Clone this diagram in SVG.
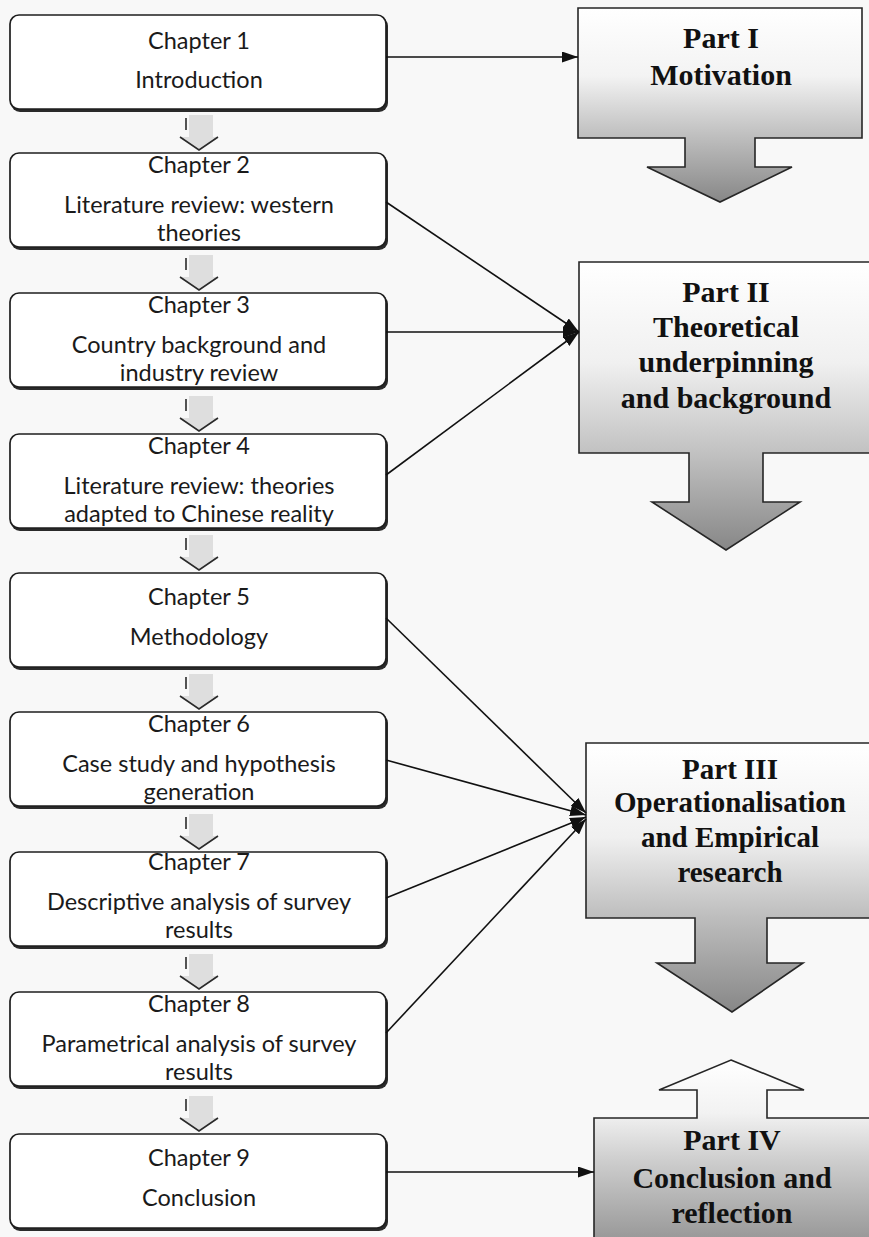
<svg xmlns="http://www.w3.org/2000/svg" width="869" height="1237" viewBox="0 0 869 1237">
  <defs>
    <style>
      .chap { fill: #ffffff; stroke: #1e1e1e; stroke-width: 1.7; }
      .shadow { fill: #2a2a2a; }
      .ct { font-family: Lato, "Liberation Sans", sans-serif; font-size: 23.5px; fill: #1a1a1a; text-anchor: middle; }
      .pt { font-family: "Liberation Serif", "Times New Roman", serif; font-weight: bold; font-size: 30px; fill: #111; text-anchor: middle; }
      .pt3 { font-size: 29px; }
      .part { stroke: #262626; stroke-width: 1.6; stroke-linejoin: miter; }
      .conn { fill: none; stroke: #111; stroke-width: 1.6; }
      .stepfill { fill: #dedede; }
      .stepline { fill: none; stroke: #2a2a2a; stroke-width: 1.6; }
    </style>
    <marker id="head" viewBox="0 0 16 11" refX="16" refY="5.5" markerWidth="16" markerHeight="11" markerUnits="userSpaceOnUse" orient="auto">
      <path d="M0,0 L16,5.5 L0,11 Z" fill="#111"/>
    </marker>
    <linearGradient id="gDown1" x1="0" y1="8" x2="0" y2="202" gradientUnits="userSpaceOnUse">
      <stop offset="0" stop-color="#ffffff"/>
      <stop offset="0.35" stop-color="#f3f3f3"/>
      <stop offset="0.67" stop-color="#bdbdbd"/>
      <stop offset="1" stop-color="#878787"/>
    </linearGradient>
    <linearGradient id="gDown2" x1="0" y1="262" x2="0" y2="550" gradientUnits="userSpaceOnUse">
      <stop offset="0" stop-color="#ffffff"/>
      <stop offset="0.35" stop-color="#f0f0f0"/>
      <stop offset="0.66" stop-color="#c2c2c2"/>
      <stop offset="1" stop-color="#878787"/>
    </linearGradient>
    <linearGradient id="gDown3" x1="0" y1="743" x2="0" y2="1012" gradientUnits="userSpaceOnUse">
      <stop offset="0" stop-color="#ffffff"/>
      <stop offset="0.35" stop-color="#f0f0f0"/>
      <stop offset="0.65" stop-color="#bdbdbd"/>
      <stop offset="1" stop-color="#878787"/>
    </linearGradient>
    <linearGradient id="gUp4" x1="0" y1="1060" x2="0" y2="1237" gradientUnits="userSpaceOnUse">
      <stop offset="0" stop-color="#ffffff"/>
      <stop offset="0.3" stop-color="#f2f2f2"/>
      <stop offset="0.55" stop-color="#d0d0d0"/>
      <stop offset="1" stop-color="#9a9a9a"/>
    </linearGradient>
    <!-- small step arrow between chapter boxes; origin = top of the next box at x=199 -->
    <g id="step">
      <path class="stepfill" d="M-10,-38 H14 V-16 H19 L0,-3 L-19,-16 H-10 Z"/>
      <path class="stepline" d="M-13,-35 V-23"/>
      <path class="stepline" d="M-19,-16 L0,-3 L19,-16"/>
    </g>
  </defs>

  <rect width="869" height="1237" fill="#f8f8f8"/>

  <!-- chapter column -->
  <g id="ch1">
    <rect class="shadow" x="11" y="17" width="377" height="95" rx="9"/>
    <rect class="chap" x="10" y="15" width="376" height="94" rx="9"/>
    <text class="ct" x="199" y="49">Chapter 1</text>
    <text class="ct" x="199" y="88">Introduction</text>
  </g>
  <g id="ch2">
    <rect class="shadow" x="11" y="155" width="377" height="95" rx="9"/>
    <rect class="chap" x="10" y="153" width="376" height="94" rx="9"/>
    <text class="ct" x="199" y="173">Chapter 2</text>
    <text class="ct" x="199" y="213">Literature review: western</text>
    <text class="ct" x="199" y="241">theories</text>
  </g>
  <g id="ch3">
    <rect class="shadow" x="11" y="295" width="377" height="95" rx="9"/>
    <rect class="chap" x="10" y="293" width="376" height="94" rx="9"/>
    <text class="ct" x="199" y="313">Chapter 3</text>
    <text class="ct" x="199" y="353">Country background and</text>
    <text class="ct" x="199" y="381">industry review</text>
  </g>
  <g id="ch4">
    <rect class="shadow" x="11" y="436" width="377" height="95" rx="9"/>
    <rect class="chap" x="10" y="434" width="376" height="94" rx="9"/>
    <text class="ct" x="199" y="454">Chapter 4</text>
    <text class="ct" x="199" y="494">Literature review: theories</text>
    <text class="ct" x="199" y="522">adapted to Chinese reality</text>
  </g>
  <g id="ch5">
    <rect class="shadow" x="11" y="575" width="377" height="95" rx="9"/>
    <rect class="chap" x="10" y="573" width="376" height="94" rx="9"/>
    <text class="ct" x="199" y="605">Chapter 5</text>
    <text class="ct" x="199" y="645">Methodology</text>
  </g>
  <g id="ch6">
    <rect class="shadow" x="11" y="714" width="377" height="95" rx="9"/>
    <rect class="chap" x="10" y="712" width="376" height="94" rx="9"/>
    <text class="ct" x="199" y="732">Chapter 6</text>
    <text class="ct" x="199" y="772">Case study and hypothesis</text>
    <text class="ct" x="199" y="800">generation</text>
  </g>
  <g id="ch7">
    <rect class="shadow" x="11" y="854" width="377" height="95" rx="9"/>
    <rect class="chap" x="10" y="852" width="376" height="94" rx="9"/>
    <text class="ct" x="199" y="870">Chapter 7</text>
    <text class="ct" x="199" y="910">Descriptive analysis of survey</text>
    <text class="ct" x="199" y="938">results</text>
  </g>
  <g id="ch8">
    <rect class="shadow" x="11" y="994" width="377" height="95" rx="9"/>
    <rect class="chap" x="10" y="992" width="376" height="94" rx="9"/>
    <text class="ct" x="199" y="1012">Chapter 8</text>
    <text class="ct" x="199" y="1052">Parametrical analysis of survey</text>
    <text class="ct" x="199" y="1080">results</text>
  </g>
  <g id="ch9">
    <rect class="shadow" x="11" y="1136" width="377" height="95" rx="9"/>
    <rect class="chap" x="10" y="1134" width="376" height="94" rx="9"/>
    <text class="ct" x="199" y="1166">Chapter 9</text>
    <text class="ct" x="199" y="1206">Conclusion</text>
  </g>

  <!-- step arrows between consecutive chapters -->
  <g id="steps">
    <use href="#step" x="199" y="153"/>
    <use href="#step" x="199" y="293"/>
    <use href="#step" x="199" y="434"/>
    <use href="#step" x="199" y="573"/>
    <use href="#step" x="199" y="712"/>
    <use href="#step" x="199" y="852"/>
    <use href="#step" x="199" y="992"/>
    <use href="#step" x="199" y="1134"/>
  </g>

  <!-- part blocks -->
  <g id="part1">
    <path class="part" fill="url(#gDown1)" d="M578,8 H862 V138 H755 V167 H792 L720,202 L647,167 H685 V138 H578 Z"/>
    <text class="pt" x="721" y="48">Part I</text>
    <text class="pt" x="721" y="85">Motivation</text>
  </g>
  <g id="part2">
    <path class="part" fill="url(#gDown2)" d="M579,262 H876 V453 H763 V502 H800 L726,550 L652,502 H689 V453 H579 Z"/>
    <text class="pt" x="726" y="302">Part II</text>
    <text class="pt" x="726" y="337">Theoretical</text>
    <text class="pt" x="726" y="372">underpinning</text>
    <text class="pt" x="726" y="408">and background</text>
  </g>
  <g id="part3">
    <path class="part" fill="url(#gDown3)" d="M586,743 H878 V918 H767 V963 H803 L732,1012 L657,963 H695 V918 H586 Z"/>
    <text class="pt pt3" x="730" y="779">Part III</text>
    <text class="pt pt3" x="730" y="812">Operationalisation</text>
    <text class="pt pt3" x="730" y="847">and Empirical</text>
    <text class="pt pt3" x="730" y="882">research</text>
  </g>
  <g id="part4">
    <path class="part" fill="url(#gUp4)" d="M731,1060 L804,1090 H767 V1118 H880 V1245 H594 V1118 H697 V1090 H659 Z"/>
    <text class="pt" x="732" y="1150">Part IV</text>
    <text class="pt" x="732" y="1188">Conclusion and</text>
    <text class="pt" x="732" y="1223">reflection</text>
  </g>

  <!-- connectors from chapters to parts -->
  <g id="connectors">
    <path class="conn" marker-end="url(#head)" d="M386,57 H578"/>
    <path class="conn" marker-end="url(#head)" d="M386,202 L579,332"/>
    <path class="conn" marker-end="url(#head)" d="M386,332 H579"/>
    <path class="conn" marker-end="url(#head)" d="M386,475 L579,332"/>
    <path class="conn" marker-end="url(#head)" d="M386,618 L586,813"/>
    <path class="conn" marker-end="url(#head)" d="M386,760 L586,815"/>
    <path class="conn" marker-end="url(#head)" d="M386,898 L586,817"/>
    <path class="conn" marker-end="url(#head)" d="M386,1033 L586,819"/>
    <path class="conn" marker-end="url(#head)" d="M386,1172 H594"/>
  </g>
</svg>
